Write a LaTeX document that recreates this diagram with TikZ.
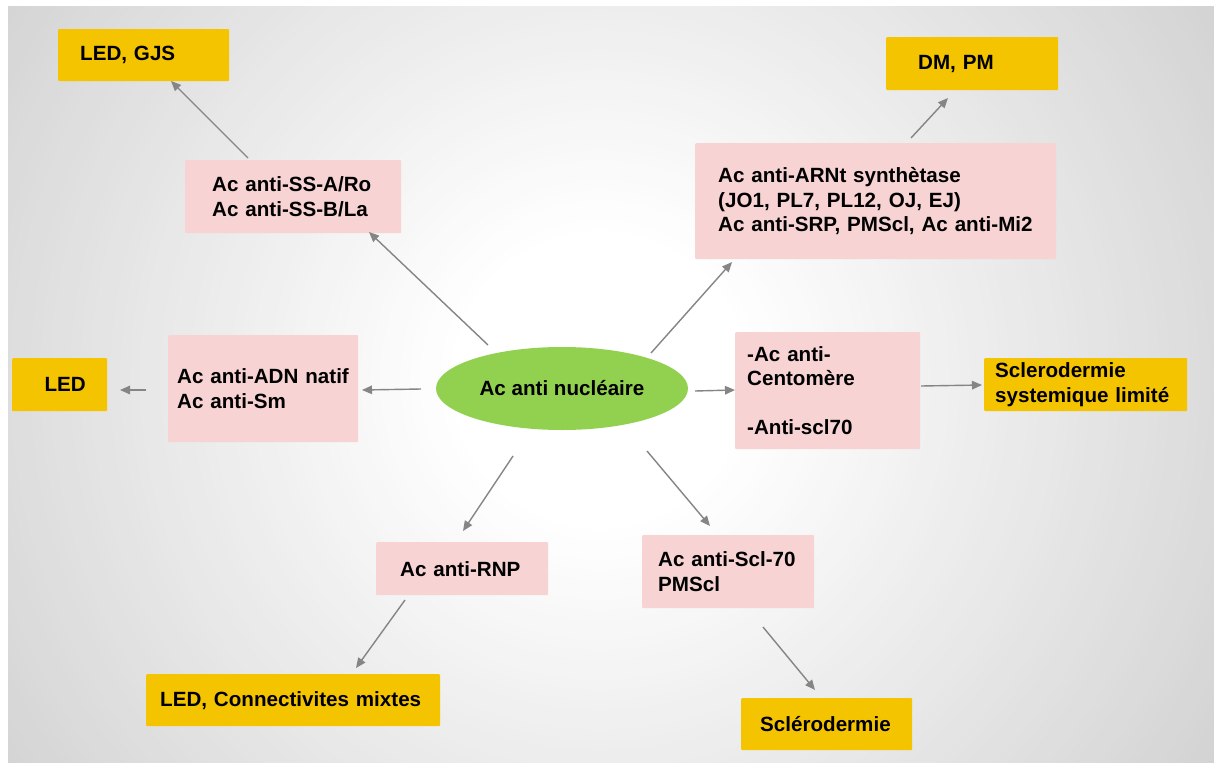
\documentclass[tikz,border=0pt]{standalone}
\usepackage{fontspec}
\setmainfont{Liberation Sans}
\usetikzlibrary{shapes.geometric,arrows.meta}
\definecolor{ybox}{HTML}{F5C400}
\definecolor{pbox}{HTML}{F7D3D4}
\definecolor{gell}{HTML}{92D050}
\definecolor{arr}{HTML}{858585}
\tikzset{
  bx/.style={anchor=north west, inner ysep=0pt, align=left, rounded corners=1pt,
    font=\fontsize{20.6}{24.5}\selectfont\bfseries, text=black},
  yb/.style={bx, fill=ybox},
  pb/.style={bx, fill=pbox},
  conn/.style={draw=arr, line width=1.4pt, -{Triangle[length=10pt,width=8.5pt]}}
}
\begin{document}
\begin{tikzpicture}[x=1pt,y=-1pt]
\useasboundingbox (0,0) rectangle (1214,765);
\fill[white] (0,0) rectangle (1214,765);
\begin{scope}
\clip (8,7) rectangle (1214,762);
\foreach \r in {730,720,...,150} {
  \pgfmathsetmacro\k{max(0,(\r-150)/570*17)}
  \fill[black!\k] (600,380) circle (\r);
}
\end{scope}
% nodes
\node[yb, minimum width=171pt, minimum height=52pt, text width=127pt, inner xsep=22pt] (gjs) at (58,29) {LED, GJS};
\node[pb, minimum width=216pt, minimum height=73pt, text width=162pt, inner xsep=27pt] (ss) at (185,160) {Ac anti-SS-A/Ro\\Ac anti-SS-B/La};
\node[yb, minimum width=172pt, minimum height=53pt, text width=108pt, inner xsep=32pt] (dm) at (886,37) {DM, PM};
\node[pb, minimum width=361pt, minimum height=116pt, text width=315pt, inner xsep=23pt] (arnt) at (695,143) {Ac anti-ARNt synthètase\\(JO1, PL7, PL12, OJ, EJ)\\Ac anti-SRP, PMScl, Ac anti-Mi2};
\node[yb, minimum width=95pt, minimum height=53pt, text width=52pt, inner xsep=21.5pt, align=right] (ledl) at (12,358) {LED};
\node[pb, minimum width=190pt, minimum height=107pt, text width=172pt, inner xsep=9pt] (adn) at (168,335) {Ac anti-ADN natif\\Ac anti-Sm};
\node[pb, minimum width=185pt, minimum height=117pt, text width=161pt, inner xsep=12pt] (cent) at (735,332) {-Ac anti-\\Centomère\\[24.5pt]-Anti-scl70};
\node[yb, minimum width=203pt, minimum height=53pt, text width=181pt, inner xsep=11pt] (scl) at (984,358) {Sclerodermie\\systemique limité};
\node[pb, minimum width=172pt, minimum height=53pt, text width=124pt, inner xsep=24pt] (rnp) at (376,542) {Ac anti-RNP};
\node[pb, minimum width=172pt, minimum height=73pt, text width=140pt, inner xsep=16pt] (s70) at (642,535) {Ac anti-Scl-70\\PMScl};
\node[yb, minimum width=294pt, minimum height=52pt, text width=266pt, inner xsep=14pt] (mix) at (146,674) {LED, Connectivites mixtes};
\node[yb, minimum width=171pt, minimum height=52pt, text width=133pt, inner xsep=19pt] (sclero) at (741,698) {Sclérodermie};
\node[ellipse, fill=gell, minimum width=252pt, minimum height=83pt, inner sep=0pt,
  font=\fontsize{20.6}{24.5}\selectfont\bfseries] (ell) at (562,388.5) {Ac anti nucléaire};
% connector end points
\coordinate (e1s) at (488,345); \coordinate (e1t) at (369,232);
\coordinate (e2s) at (248,158); \coordinate (e2t) at (171,81);
\coordinate (e3s) at (651,353); \coordinate (e3t) at (732,262);
\coordinate (e4s) at (911,138); \coordinate (e4t) at (948,98);
\coordinate (e5s) at (421,389); \coordinate (e5t) at (362,390);
\coordinate (e6s) at (146,390); \coordinate (e6t) at (120,390);
\coordinate (e7s) at (695,391); \coordinate (e7t) at (735,390);
\coordinate (e8s) at (921,386); \coordinate (e8t) at (982,385);
\coordinate (e9s) at (513,456); \coordinate (e9t) at (463,531);
\coordinate (e10s) at (647,451); \coordinate (e10t) at (710,526);
\coordinate (e11s) at (405,600); \coordinate (e11t) at (356,668);
\coordinate (e12s) at (763,627); \coordinate (e12t) at (815,690);
\draw[conn] (e1s) -- (e1t);
\draw[conn] (e2s) -- (e2t);
\draw[conn] (e3s) -- (e3t);
\draw[conn] (e4s) -- (e4t);
\draw[conn] (e5s) -- (e5t);
\draw[conn] (e6s) -- (e6t);
\draw[conn] (e7s) -- (e7t);
\draw[conn] (e8s) -- (e8t);
\draw[conn] (e9s) -- (e9t);
\draw[conn] (e10s) -- (e10t);
\draw[conn] (e11s) -- (e11t);
\draw[conn] (e12s) -- (e12t);
\end{tikzpicture}
\end{document}
